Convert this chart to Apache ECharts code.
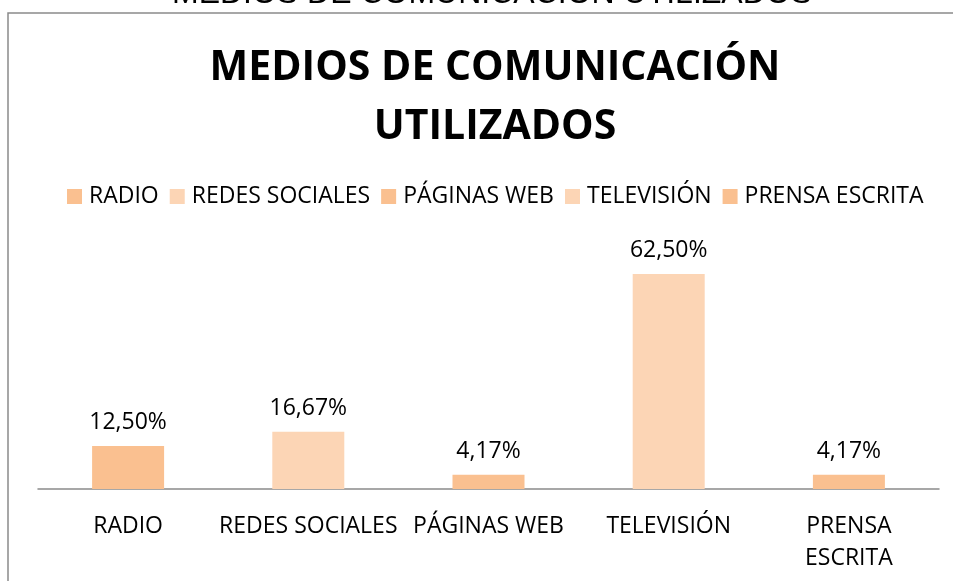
<!DOCTYPE html>
<html>
<head>
<meta charset="utf-8">
<script src="https://cdn.jsdelivr.net/npm/echarts@6/dist/echarts.min.js"></script>
<style>
  html, body { margin: 0; padding: 0; background: #fff; overflow: hidden; }
  #main { width: 953px; height: 581px; }
</style>
</head>
<body>
<div id="main"></div>
<script>
// datos del gráfico
var categories = ['RADIO', 'REDES SOCIALES', 'PÁGINAS WEB', 'TELEVISIÓN', 'PRENSA ESCRITA'];
var tickLabels = ['RADIO', 'REDES SOCIALES', 'PÁGINAS WEB', 'TELEVISIÓN', 'PRENSA\nESCRITA'];
var values = [12.50, 16.67, 4.17, 62.50, 4.17];
var colors = ['#FAC090', '#FCD5B5', '#FAC090', '#FCD5B5', '#FAC090'];

var FONT = 'Open Sans';
var chart = echarts.init(document.getElementById('main'));

// una serie por categoría (para que salgan en la leyenda), apiladas en su columna
var series = categories.map(function (name, i) {
  return {
    name: name,
    type: 'bar',
    stack: 'total',
    barWidth: 72,
    itemStyle: { color: colors[i] },
    label: {
      show: true,
      position: 'top',
      distance: 12,
      fontFamily: FONT,
      fontSize: 23,
      color: '#000',
      formatter: function (p) {
        return p.value.toFixed(2).replace('.', ',') + '%';
      }
    },
    data: values.map(function (v, j) { return j === i ? v : '-'; })
  };
});

var option = {
  animation: false,
  title: {
    text: 'MEDIOS DE COMUNICACIÓN\nUTILIZADOS',
    left: 490,
    top: 34,
    textAlign: 'center',
    textStyle: {
      fontFamily: FONT,
      fontSize: 41,
      fontWeight: 'bold',
      lineHeight: 59,
      color: '#000'
    }
  },
  legend: {
    left: 67,
    top: 185,
    padding: 0,
    itemWidth: 15,
    itemHeight: 15,
    itemGap: 11,
    icon: 'rect',
    textStyle: { fontFamily: FONT, fontSize: 23, color: '#000', padding: [0, 0, 0, 2] },
    data: categories
  },
  grid: { left: 38, right: 14, top: 231, bottom: 92 },
  xAxis: {
    type: 'category',
    data: categories,
    axisLine: { lineStyle: { color: '#8a8a8a', width: 1.5 } },
    axisTick: { show: false },
    axisLabel: {
      interval: 0,
      margin: 21,
      fontFamily: FONT,
      fontSize: 23,
      lineHeight: 32,
      color: '#000',
      formatter: function (v, i) { return tickLabels[i]; }
    }
  },
  yAxis: {
    type: 'value',
    min: 0,
    max: 75,
    show: false
  },
  graphic: [
    {
      type: 'text',
      x: 492,
      y: -6,
      style: {
        text: 'MEDIOS DE COMUNICACIÓN UTILIZADOS',
        font: '32px "Liberation Sans", Arial, sans-serif',
        fill: '#000',
        align: 'center',
        verticalAlign: 'middle'
      }
    },
    {
      type: 'polyline',
      shape: { points: [[8, 581], [8, 13], [953, 13]] },
      style: { stroke: '#8a8a8a', lineWidth: 1.5, fill: null }
    }
  ],
  series: series
};

chart.setOption(option);
</script>
</body>
</html>
